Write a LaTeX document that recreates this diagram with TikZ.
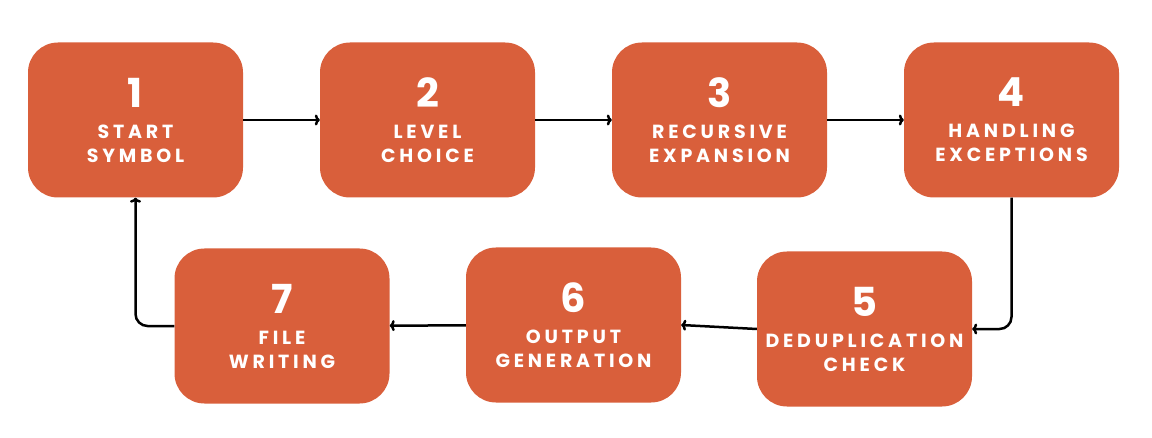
\documentclass[tikz,border=0pt]{standalone}
\usepackage{fontspec}
\setmainfont{Poppins}
\newfontfamily\stepfont{Poppins}[LetterSpace=20]
\usepackage{color}
\usetikzlibrary{arrows,arrows.meta}
\definecolor{boxorange}{HTML}{D95F3B}
\newcommand{\stepnum}[1]{{\fontsize{40}{40}\selectfont #1}\\[7pt]}

\begin{document}
\begin{tikzpicture}[x=1pt,y=1pt,>={To[length=5pt,width=11pt]},every node/.style={rectangle,rounded corners=30pt,fill=boxorange,text=white,minimum width=215pt,minimum height=155pt,align=center,font=\stepfont\bfseries\fontsize{19}{24}\selectfont}]
	\useasboundingbox (0,0) rectangle (1152,437);
	\node (n1) at (135.5,317)  {\stepnum{1}START\\SYMBOL};
	\node (n2) at (427.5,317)  {\stepnum{2}LEVEL\\CHOICE};
	\node (n3) at (719.5,317)  {\stepnum{3}RECURSIVE\\EXPANSION};
	\node (n4) at (1011.5,317) {\stepnum{4}HANDLING\\EXCEPTIONS};
	\node (n5) at (864.5,108)  {\stepnum{5}DEDUPLICATION\\CHECK};
	\node (n6) at (573.5,112)  {\stepnum{6}OUTPUT\\GENERATION};
	\node (n7) at (282,111)    {\stepnum{7}FILE\\WRITING};
	
	\draw[->,line width=2.5pt] (n1) -- (n2);
	\draw[->,line width=2.5pt] (n2) -- (n3);
	\draw[->,line width=2.5pt] (n3) -- (n4);
	\draw[->,line width=2.5pt,rounded corners=12pt] (n4.south) |- (n5.east);
	\draw[->,line width=2.5pt] (n5.west) -- (n6.east);
	\draw[->,line width=2.5pt] (n6) -- (n7);
	\draw[->,line width=2.5pt,rounded corners=12pt] (n7.west) -| (n1.south);
	
	\end{tikzpicture}
\end{document}
